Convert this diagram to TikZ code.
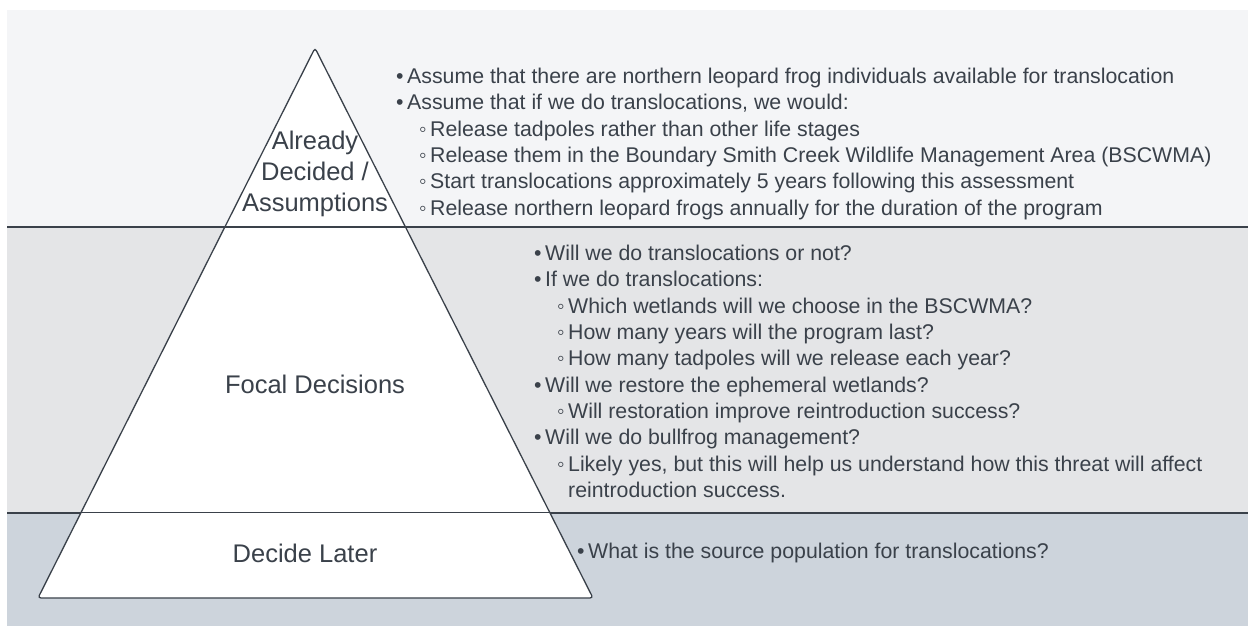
\documentclass[tikz,border=0pt]{standalone}
\usepackage{fontspec}
\setmainfont{Liberation Sans}
\usepackage{tikz}
\usetikzlibrary{calc}
\definecolor{inkgray}{HTML}{3A414A}
\definecolor{bandtop}{HTML}{F4F5F7}
\definecolor{bandmid}{HTML}{E4E5E7}
\definecolor{bandlow}{HTML}{CDD4DC}
\newcommand{\bl}{\makebox[11pt][l]{•}}
\newcommand{\sbl}{\hspace*{23pt}\makebox[11pt][l]{◦}}
\newcommand{\cnt}{\hspace*{34pt}}
\tikzset{
  tierlabel/.style={align=center, inner sep=0pt, text=inkgray, font=\fontsize{25.5}{31}\selectfont},
  notes/.style={align=left, inner sep=0pt, text=inkgray, font=\fontsize{21.3}{26.3}\selectfont},
  divider/.style={draw=inkgray, line width=2.8pt},
  pyramid/.style={draw=inkgray, line width=1.3pt}
}

\begin{document}
\begin{tikzpicture}[x=1pt,y=-1pt]
        \useasboundingbox (0,0) rectangle (1248,626);

        \fill[bandtop] (7,10) rectangle (1248,227);
        \fill[bandmid] (7,227) rectangle (1248,513);
        \fill[bandlow] (7,513) rectangle (1248,626);
        \draw[divider] (7,227) -- (1248,227);
        \draw[divider] (7,513) -- (1248,513);

        \coordinate (apex) at (315,48);
        \coordinate (baseL) at (38,598);
        \coordinate (baseR) at (593,598);
        \coordinate (cutL1) at ($(apex)!0.3255!(baseL)$);
        \coordinate (cutR1) at ($(apex)!0.3255!(baseR)$);
        \coordinate (cutL2) at ($(apex)!0.845!(baseL)$);
        \coordinate (cutR2) at ($(apex)!0.845!(baseR)$);

        \filldraw[pyramid, fill=white, rounded corners=3pt] (apex) -- (baseR) -- (baseL) -- cycle;
        \draw[pyramid] (cutL1) -- (cutR1);
        \draw[pyramid] (cutL2) -- (cutR2);

        \node[tierlabel] (assumed) at (315,173.5) {Already\\Decided /\\Assumptions};
        \node[tierlabel] (focal) at (315,384) {Focal Decisions};
        \node[tierlabel] (later) at (305,553) {Decide Later};

        \node[notes, anchor=north west] (assumednotes) at (396,68) {\bl Assume that there are northern leopard frog individuals available for translocation\\
            \bl Assume that if we do translocations, we would:\\
            \sbl Release tadpoles rather than other life stages\\
            \sbl Release them in the Boundary Smith Creek Wildlife Management Area (BSCWMA)\\
            \sbl Start translocations approximately 5 years following this assessment\\
            \sbl Release northern leopard frogs annually for the duration of the program};

        \node[notes, anchor=north west] (focalnotes) at (534,245) {\bl Will we do translocations or not?\\
            \bl If we do translocations:\\
            \sbl Which wetlands will we choose in the BSCWMA?\\
            \sbl How many years will the program last?\\
            \sbl How many tadpoles will we release each year?\\
            \bl Will we restore the ephemeral wetlands?\\
            \sbl Will restoration improve reintroduction success?\\
            \bl Will we do bullfrog management?\\
            \sbl Likely yes, but this will help us understand how this threat will affect\\
            \cnt reintroduction success.};

        \node[notes, anchor=west] (laternotes) at (577,553) {\bl What is the source population for translocations?};
\end{tikzpicture}
\end{document}
